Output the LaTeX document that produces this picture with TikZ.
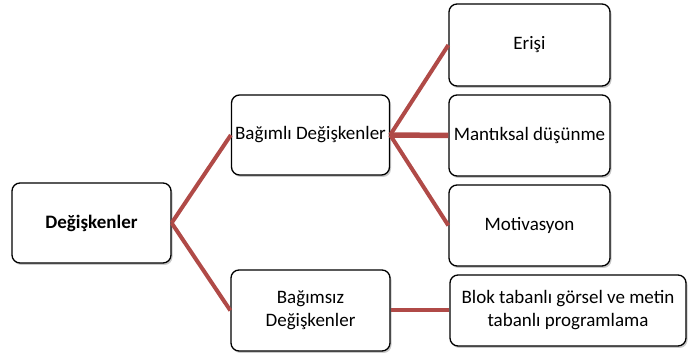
\documentclass[tikz,border=0pt]{standalone}
\usepackage{fontspec}
\setmainfont{Carlito}
\usetikzlibrary{shadows}
\definecolor{conn}{HTML}{B04A47}
\tikzset{
  txt/.style={font=\fontsize{19}{23}\selectfont},
  box/.style={draw=black, line width=1.3pt, rounded corners=8pt, fill=white,
    align=center, txt, inner sep=0pt,
    drop shadow={shadow xshift=1.5pt, shadow yshift=-2pt, opacity=0.35, fill=black!60}},
  link/.style={draw=conn, line width=4pt},
}
\begin{document}
\begin{tikzpicture}[x=1pt,y=-1pt]
\useasboundingbox (0,0) rectangle (689,355);
\node[box, minimum width=159pt, minimum height=80pt, font=\fontsize{19}{23}\selectfont\bfseries] (root) at (91.5,223) {Değişkenler};
\node[box, minimum width=158pt, minimum height=80pt] (dep) at (310.5,135) {Bağımlı Değişkenler};
\node[box, minimum width=159pt, minimum height=81pt] (ind) at (310.5,310.5) {Bağımsız\\Değişkenler};
\node[box, minimum width=161pt, minimum height=82pt] (eri) at (529.5,45) {Erişi};
\node[box, minimum width=161pt, minimum height=81pt] (man) at (529.5,135.5) {Mantıksal düşünme};
\node[box, minimum width=161pt, minimum height=81pt] (mot) at (529.5,225.5) {Motivasyon};
\node[box, minimum width=236pt, minimum height=71pt] (blok) at (568,310.5) {Blok tabanlı görsel ve metin\\tabanlı programlama};
\path[link] (root.east) -- (dep.west);
\path[link] (root.east) -- (ind.west);
\path[link] (dep.east) -- (eri.west);
\path[link, line width=5.5pt] (dep.east) -- (man.west);
\path[link] (dep.east) -- (mot.west);
\path[link] (ind.east) -- (blok.west);
\end{tikzpicture}
\end{document}
